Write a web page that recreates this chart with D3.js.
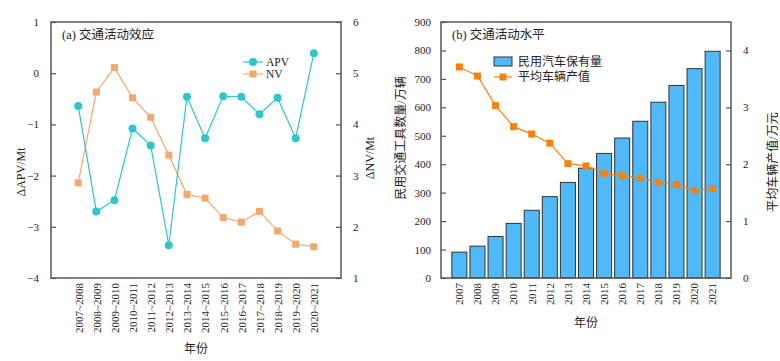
<!DOCTYPE html>
<html>
<head>
<meta charset="utf-8">
<script src="https://cdn.jsdelivr.net/npm/d3@7"></script>
<style>
  body { margin: 0; background: #fff; }
  text { font-family: "Liberation Serif", "Noto Sans CJK SC", serif; fill: #222; }
</style>
</head>
<body>
<div id="chart"></div>
<script>
// panel (a)
const periods = ["2007~2008","2008~2009","2009~2010","2010~2011","2011~2012","2012~2013","2013~2014",
  "2014~2015","2015~2016","2016~2017","2017~2018","2018~2019","2019~2020","2020~2021"];
const apv = [-0.64, -2.70, -2.48, -1.08, -1.41, -3.36, -0.46, -1.27, -0.45, -0.46, -0.80, -0.48, -1.27, 0.39];
const nv = [2.86, 4.63, 5.11, 4.52, 4.14, 3.40, 2.63, 2.56, 2.18, 2.09, 2.30, 1.92, 1.66, 1.61];
const apvTicks = [1, 0, -1, -2, -3, -4];
const nvTicks = [6, 5, 4, 3, 2, 1];

// panel (b)
const years = ["2007","2008","2009","2010","2011","2012","2013","2014","2015","2016","2017","2018","2019","2020","2021"];
const vehicles = [91, 112, 146, 192, 238, 286, 336, 386, 438, 492, 551, 618, 677, 736, 797];
const avgOutput = [3.71, 3.55, 3.03, 2.66, 2.53, 2.37, 2.01, 1.97, 1.84, 1.80, 1.75, 1.68, 1.64, 1.54, 1.57];
const vehTicks = [0, 100, 200, 300, 400, 500, 600, 700, 800, 900];
const outTicks = [0, 1, 2, 3, 4];

const width = 780, height = 361;
const svg = d3.select("#chart").append("svg")
  .attr("width", width).attr("height", height);

const plotTop = 22, plotBottom = 278;
const axisColor = "#555";
const serif = "Liberation Serif, Noto Sans CJK SC, serif";
const fmt = d => d < 0 ? "\u2212" + Math.abs(d) : String(d);

function frame(x0, x1) {
  svg.append("rect")
    .attr("x", x0).attr("y", plotTop)
    .attr("width", x1 - x0).attr("height", plotBottom - plotTop)
    .attr("fill", "none").attr("stroke", axisColor).attr("stroke-width", 1.5);
}

function styleAxis(g) {
  g.attr("font-family", serif).attr("font-size", 11);
  g.select(".domain").remove();
  g.selectAll(".tick line").attr("stroke", axisColor).attr("stroke-width", 1.2);
  g.selectAll(".tick text").attr("fill", "#222");
}

function bottomLabels(g) {
  g.selectAll(".tick text")
    .attr("transform", "rotate(-90)")
    .attr("text-anchor", "end")
    .attr("x", -5).attr("y", 0).attr("dy", "0.35em");
}

function vLabel(x, y, txt) {
  svg.append("text").attr("transform", `translate(${x},${y}) rotate(-90)`)
    .attr("text-anchor", "middle").attr("font-size", 12).text(txt);
}

// ---------- panel (a) ----------
{
  const x0 = 51, x1 = 341;
  const x = d3.scalePoint().domain(periods).range([x0, x1]).padding(1.5);
  const yL = d3.scaleLinear().domain([-4, 1]).range([plotBottom, plotTop]);
  const yR = d3.scaleLinear().domain([1, 6]).range([plotBottom, plotTop]);

  svg.append("g").attr("transform", `translate(${x0},0)`)
    .call(d3.axisLeft(yL).tickValues(apvTicks).tickFormat(fmt).tickSize(-5).tickPadding(12))
    .call(styleAxis);
  svg.append("g").attr("transform", `translate(${x1},0)`)
    .call(d3.axisRight(yR).tickValues(nvTicks).tickFormat(fmt).tickSize(-5).tickPadding(12))
    .call(styleAxis);
  svg.append("g").attr("transform", `translate(0,${plotBottom})`)
    .call(d3.axisBottom(x).tickSize(0))
    .call(styleAxis).call(bottomLabels);

  frame(x0, x1);

  const nvColor = "#f5a86b", apvColor = "#2ec5cc";

  svg.append("path").datum(nv)
    .attr("fill", "none").attr("stroke", nvColor).attr("stroke-width", 1.2)
    .attr("d", d3.line().x((d, i) => x(periods[i])).y(d => yR(d)));
  svg.selectAll(".nvpt").data(nv).join("rect")
    .attr("x", (d, i) => x(periods[i]) - 3.5).attr("y", d => yR(d) - 3.5)
    .attr("width", 7).attr("height", 7).attr("fill", nvColor);

  svg.append("path").datum(apv)
    .attr("fill", "none").attr("stroke", apvColor).attr("stroke-width", 1.2)
    .attr("d", d3.line().x((d, i) => x(periods[i])).y(d => yL(d)));
  svg.selectAll(".apvpt").data(apv).join("circle")
    .attr("cx", (d, i) => x(periods[i])).attr("cy", d => yL(d))
    .attr("r", 4).attr("fill", apvColor);

  svg.append("text").attr("x", 62).attr("y", 39).attr("font-size", 12.5)
    .text("(a) 交通活动效应");

  // legend
  const lg = svg.append("g").attr("transform", "translate(243,62)");
  [["APV", apvColor, "c"], ["NV", nvColor, "s"]].forEach((d, i) => {
    const row = lg.append("g").attr("transform", `translate(0,${i * 12})`);
    row.append("line").attr("x1", 0).attr("x2", 20).attr("stroke", d[1]).attr("stroke-width", 1.2);
    if (d[2] === "c") row.append("circle").attr("cx", 10).attr("r", 4).attr("fill", d[1]);
    else row.append("rect").attr("x", 6.5).attr("y", -3.5).attr("width", 7).attr("height", 7).attr("fill", d[1]);
    row.append("text").attr("x", 23).attr("dy", "0.35em").attr("font-size", 11.5).text(d[0]);
  });

  vLabel(25, 172, "ΔAPV/Mt");
  vLabel(374, 158, "ΔNV/Mt");
  svg.append("text").attr("x", (x0 + x1) / 2).attr("y", 353)
    .attr("text-anchor", "middle").attr("font-size", 12).text("年份");
}

// ---------- panel (b) ----------
{
  const x0 = 441, x1 = 731;
  const x = d3.scaleBand().domain(years).range([x0, x1]).paddingInner(0.17).paddingOuter(0.6);
  const yL = d3.scaleLinear().domain([0, 900]).range([plotBottom, plotTop]);
  const yR = d3.scaleLinear().domain([0, 4.5]).range([plotBottom, plotTop]);

  svg.append("g").attr("transform", `translate(${x0},0)`)
    .call(d3.axisLeft(yL).tickValues(vehTicks).tickFormat(fmt).tickSize(-5).tickPadding(10))
    .call(styleAxis);
  svg.append("g").attr("transform", `translate(${x1},0)`)
    .call(d3.axisRight(yR).tickValues(outTicks).tickFormat(fmt).tickSize(-5).tickPadding(12))
    .call(styleAxis);
  svg.append("g").attr("transform", `translate(0,${plotBottom})`)
    .call(d3.axisBottom(x).tickSize(0))
    .call(styleAxis).call(bottomLabels);

  const barColor = "#4fb9f9", lineColor = "#f5820f";

  svg.selectAll(".bar").data(vehicles).join("rect")
    .attr("x", (d, i) => x(years[i])).attr("y", d => yL(d))
    .attr("width", x.bandwidth()).attr("height", d => plotBottom - yL(d))
    .attr("fill", barColor).attr("stroke", "#333").attr("stroke-width", 1);

  frame(x0, x1);

  const cx = (i) => x(years[i]) + x.bandwidth() / 2;
  svg.append("path").datum(avgOutput)
    .attr("fill", "none").attr("stroke", lineColor).attr("stroke-width", 1.2)
    .attr("d", d3.line().x((d, i) => cx(i)).y(d => yR(d)));
  svg.selectAll(".outpt").data(avgOutput).join("rect")
    .attr("x", (d, i) => cx(i) - 3.5).attr("y", d => yR(d) - 3.5)
    .attr("width", 7).attr("height", 7).attr("fill", lineColor);

  svg.append("text").attr("x", 452).attr("y", 39).attr("font-size", 12.5)
    .text("(b) 交通活动水平");

  const lg = svg.append("g").attr("transform", "translate(494,62)");
  lg.append("rect").attr("x", 0).attr("y", -5).attr("width", 18).attr("height", 9)
    .attr("fill", barColor).attr("stroke", "#333").attr("stroke-width", 1);
  lg.append("text").attr("x", 24).attr("dy", "0.35em").attr("font-size", 12).text("民用汽车保有量");
  const r2 = lg.append("g").attr("transform", "translate(0,15)");
  r2.append("line").attr("x1", 0).attr("x2", 18).attr("stroke", lineColor).attr("stroke-width", 1.2);
  r2.append("rect").attr("x", 5.5).attr("y", -3.5).attr("width", 7).attr("height", 7).attr("fill", lineColor);
  r2.append("text").attr("x", 24).attr("dy", "0.35em").attr("font-size", 12).text("平均车辆产值");

  vLabel(405, 138, "民用交通工具数量/万辆");
  vLabel(777, 162, "平均车辆产值/万元");
  svg.append("text").attr("x", (x0 + x1) / 2).attr("y", 327)
    .attr("text-anchor", "middle").attr("font-size", 12).text("年份");
}
</script>
</body>
</html>
